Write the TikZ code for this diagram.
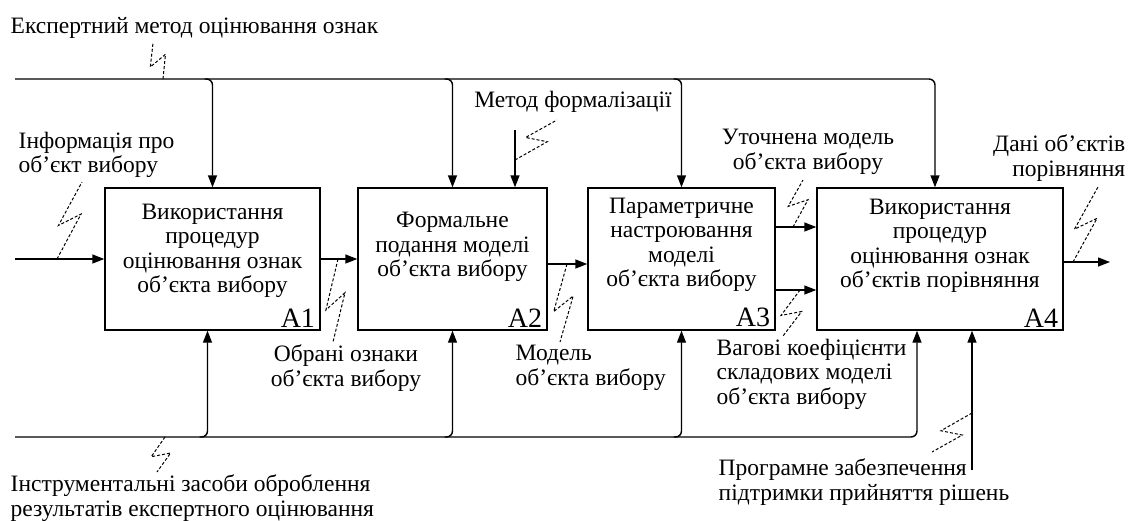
\documentclass[tikz,border=0pt]{standalone}
\usepackage{fontspec}
\setmainfont{Liberation Serif}
\usetikzlibrary{arrows.meta,calc}
\newcommand\squig[2]{\draw[sq] (#1) -- ($(#1)!0.62!(#2)!9pt!-90:(#2)$) -- ($(#1)!0.4!(#2)!9pt!90:(#2)$) -- (#2);}
\begin{document}
\begin{tikzpicture}[x=1pt,y=-1pt,
  line width=1.4pt,
  >={Triangle[length=12pt,width=9pt]},
  box/.style={draw,line width=1.4pt,minimum height=142pt,inner sep=0pt},
  txt/.style={font=\fontsize{23.5}{24.5}\selectfont,inner sep=0pt},
  num/.style={font=\fontsize{28}{28}\selectfont,inner sep=0pt,anchor=south east},
  sq/.style={dashed,dash pattern=on 3pt off 2pt,line width=1pt},
  br/.style={rounded corners=6pt,->}]
\useasboundingbox (0,0) rectangle (1128,520);
% boxes
\node[box,minimum width=215pt] (b1) at (212.5,259) {};
\node[box,minimum width=189pt] (b2) at (452.5,259) {};
\node[box,minimum width=187pt] (b3) at (681.5,259) {};
\node[box,minimum width=246pt] (b4) at (940,259) {};
\node[txt,align=center] (t1) at (212.5,251) {Використання\\процедур\\оцінювання ознак\\об’єкта вибору};
\node[txt,align=center] (t2) at (452.5,247) {Формальне\\подання моделі\\об’єкта вибору};
\node[txt,align=center] (t3) at (681.5,245) {Параметричне\\настроювання\\моделі\\об’єкта вибору};
\node[txt,align=center] (t4) at (940,246) {Використання\\процедур\\оцінювання ознак\\об’єктів порівняння};
\node[num] (n1) at ($(b1.south east)+(-5,-3)$) {A1};
\node[num] (n2) at ($(b2.south east)+(-5,-3)$) {A2};
\node[num] (n3) at ($(b3.south east)+(-5,-3)$) {A3};
\node[num] (n4) at ($(b4.south east)+(-5,-3)$) {A4};
% labels
\node[txt,anchor=west] (l1) at (10,28) {Експертний метод оцінювання ознак};
\node[txt,anchor=west,align=left] (l2) at (18,155) {Інформація про\\об’єкт вибору};
\node[txt] (l3) at (573,102) {Метод формалізації};
\node[txt,align=center] (l4) at (808,152) {Уточнена модель\\об’єкта вибору};
\node[txt,anchor=east,align=right] (l5) at (1126,158) {Дані об’єктів\\порівняння};
\node[txt,align=center] (l6) at (346,368) {Обрані ознаки\\об’єкта вибору};
\node[txt,anchor=west,align=left] (l7) at (515,368) {Модель\\об’єкта вибору};
\node[txt,anchor=west,align=left] (l8) at (716,374) {Вагові коефіцієнти\\складових моделі\\об’єкта вибору};
\node[txt,anchor=west,align=left] (l9) at (10,498) {Інструментальні засоби оброблення\\результатів експертного оцінювання};
\node[txt,anchor=west,align=left] (l10) at (718,482) {Програмне забезпечення\\підтримки прийняття рішень};
% top control line
\coordinate (tl) at (15,79);
\coordinate (bl) at (15,437);
\draw[br] (tl) -| ($(b4.north)+(-5,0)$);
\draw[br] ($(b1.north|-tl)+(-8,0)$) -- (b1.north|-tl) -- (b1.north);
\draw[br] ($(b2.north|-tl)+(-8,0)$) -- (b2.north|-tl) -- (b2.north);
\draw[br] ($(b3.north|-tl)+(-8,0)$) -- (b3.north|-tl) -- (b3.north);
\coordinate (m0) at (515,130);
\draw[->] (m0) -- (m0|-b2.north);
% bottom mechanism line
\draw[br] (bl) -| ($(b4.south)+(-23,0)$);
\draw[br] ($(b1.south|-bl)+(-13,0)$) -- ($(b1.south|-bl)+(-5,0)$) -- ($(b1.south)+(-5,0)$);
\draw[br] ($(b2.south|-bl)+(-8,0)$) -- (b2.south|-bl) -- (b2.south);
\draw[br] ($(b3.south|-bl)+(-8,0)$) -- (b3.south|-bl) -- (b3.south);
\coordinate (pz) at (972,470);
\draw[->] (pz) -- (pz|-b4.south);
% inputs and outputs
\coordinate (in0) at (15,259);
\draw[->] (in0) -- (b1.west);
\draw[->] (b1.east) -- (b2.west);
\draw[->] ($(b2.east)+(0,5)$) -- ($(b3.west)+(0,5)$);
\draw[->] ($(b3.east)+(0,-32)$) -- ($(b4.west)+(0,-32)$);
\draw[->] ($(b3.east)+(0,31)$) -- ($(b4.west)+(0,31)$);
\coordinate (out0) at (1110,262);
\draw[->] ($(b4.east)+(0,3)$) -- (out0);
% squiggles
\coordinate (s1a) at (163,79);   \coordinate (s1b) at (153,43);
\coordinate (s2a) at (57,259);   \coordinate (s2b) at (82,182);
\coordinate (s3a) at (515,160);  \coordinate (s3b) at (557,120);
\coordinate (s4a) at (338,259);  \coordinate (s4b) at (333,342);
\coordinate (s5a) at (567,264);  \coordinate (s5b) at (560,342);
\coordinate (s6a) at (793,227);  \coordinate (s6b) at (803,180);
\coordinate (s7a) at (800,290);  \coordinate (s7b) at (783,336);
\coordinate (s8a) at (1073,262); \coordinate (s8b) at (1098,187);
\coordinate (s9a) at (165,437);  \coordinate (s9b) at (157,472);
\coordinate (s10a) at (972,413); \coordinate (s10b) at (932,452);
\squig{s1a}{s1b}
\squig{s2a}{s2b}
\squig{s3a}{s3b}
\squig{s4a}{s4b}
\squig{s5a}{s5b}
\squig{s6a}{s6b}
\squig{s7a}{s7b}
\squig{s8a}{s8b}
\squig{s9a}{s9b}
\squig{s10a}{s10b}
\end{tikzpicture}
\end{document}
